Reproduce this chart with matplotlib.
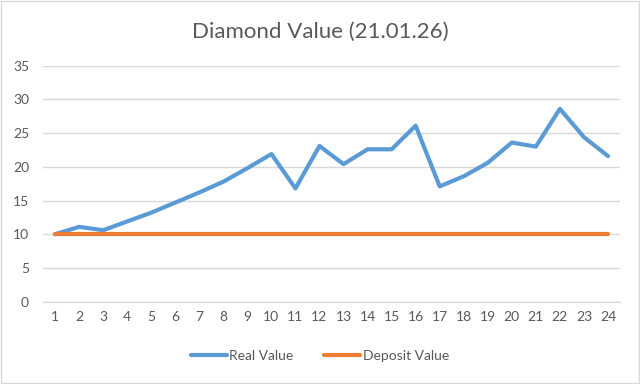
import matplotlib.pyplot as plt
from matplotlib.patches import Rectangle

plt.rcParams['font.family'] = ['Lato', 'DejaVu Sans']

months = list(range(1, 25))
real_value = [10, 11.1, 10.6, 11.9, 13.2, 14.7, 16.2, 17.8, 19.8, 21.9, 16.8, 23.1,
              20.4, 22.6, 22.6, 26.1, 17.1, 18.6, 20.6, 23.6, 23.0, 28.6, 24.4, 21.6]
deposit_value = [10] * 24

fig = plt.figure(figsize=(6.4, 3.84), dpi=100)
ax = fig.add_axes([43 / 640, 1 - 301.7 / 384, 577 / 640, 236 / 384])

ax.plot(months, real_value, color='#5B9BD5', lw=3, solid_joinstyle='round',
        solid_capstyle='round', label='Real Value', zorder=3)
ax.plot(months, deposit_value, color='#ED7D31', lw=3, solid_capstyle='round',
        label='Deposit Value', zorder=3)

ax.set_xlim(0.5, 24.5)
ax.set_ylim(0, 35)
ax.set_yticks(range(0, 36, 5))
ax.set_xticks(months)
ax.grid(axis='y', color='#D9D9D9', lw=1)
ax.set_axisbelow(True)
for s in ['top', 'right', 'left']:
    ax.spines[s].set_visible(False)
ax.spines['bottom'].set_color('#D9D9D9')
ax.tick_params(length=0, colors='#595959', labelsize=10)
ax.tick_params(axis='x', pad=7)
ax.tick_params(axis='y', pad=10)

fig.text(0.5, 1 - 32 / 384, 'Diamond Value (21.01.26)', ha='center', va='center',
         fontsize=16, color='#595959')

fig.legend(loc='center', bbox_to_anchor=(0.5, 1 - 356 / 384), ncol=2, frameon=False,
           fontsize=10, labelcolor='#595959', handlelength=2.6, handletextpad=0.2,
           columnspacing=2.2)

fig.patches.append(Rectangle((0.002, 0.003), 0.996, 0.994, transform=fig.transFigure,
                             fill=False, edgecolor='#D9D9D9', lw=1))

fig.savefig('out.png', dpi=100)
